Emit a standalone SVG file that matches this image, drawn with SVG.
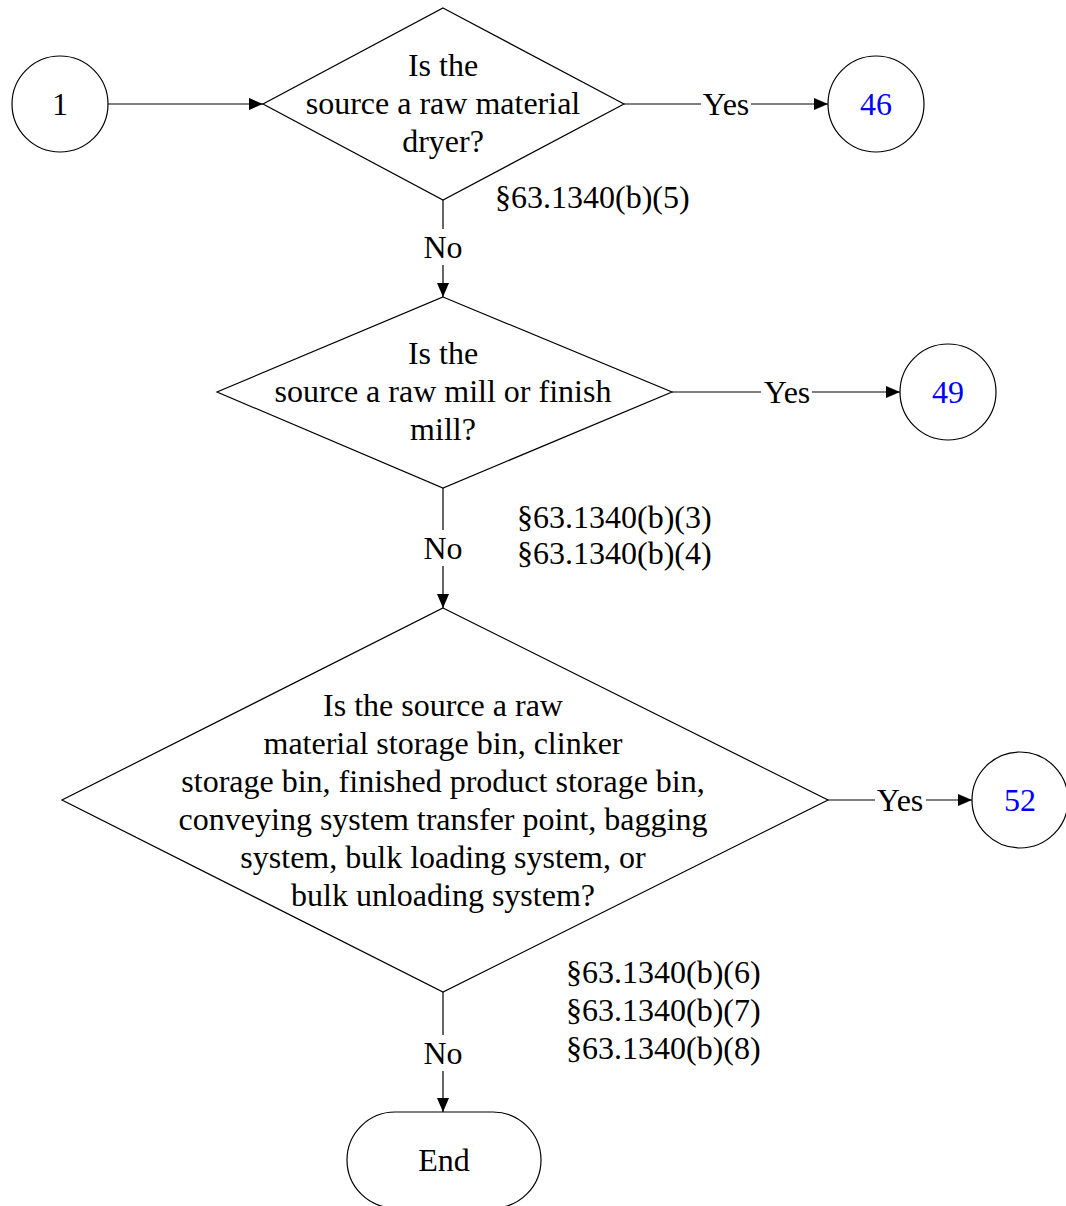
<svg xmlns="http://www.w3.org/2000/svg" width="1066" height="1206" viewBox="0 0 1066 1206">
<style>
.s{fill:#fff;stroke:#000;stroke-width:1.2}
.c{fill:none;stroke:#000;stroke-width:1.2}
text{font-family:"Liberation Serif","Times New Roman",serif;font-size:32px;fill:#000}
.m{text-anchor:middle}
.b{fill:#0000ff}
</style>
<defs>
<marker id="ah" viewBox="0 0 14 12" refX="14" refY="6" markerWidth="14" markerHeight="12" markerUnits="userSpaceOnUse" orient="auto">
<path d="M0,0 L14,6 L0,12 z" fill="#000"/>
</marker>
</defs>
<rect width="1066" height="1206" fill="#fff"/>
<g id="connectors">
<line class="c" x1="108" y1="104" x2="263" y2="104" marker-end="url(#ah)"/>
<line class="c" x1="624" y1="104" x2="701" y2="104"/>
<line class="c" x1="751" y1="104" x2="828" y2="104" marker-end="url(#ah)"/>
<text class="m" x="726" y="115">Yes</text>
<line class="c" x1="443" y1="200" x2="443" y2="229"/>
<line class="c" x1="443" y1="265" x2="443" y2="297" marker-end="url(#ah)"/>
<text class="m" x="443" y="258">No</text>
<text x="495" y="208">§63.1340(b)(5)</text>
<line class="c" x1="672" y1="392" x2="761" y2="392"/>
<line class="c" x1="812" y1="392" x2="900" y2="392" marker-end="url(#ah)"/>
<text class="m" x="787" y="403">Yes</text>
<line class="c" x1="443" y1="488" x2="443" y2="530"/>
<line class="c" x1="443" y1="566" x2="443" y2="608" marker-end="url(#ah)"/>
<text class="m" x="443" y="559">No</text>
<text x="517" y="528">§63.1340(b)(3)</text>
<text x="517" y="564">§63.1340(b)(4)</text>
<line class="c" x1="828" y1="800" x2="875" y2="800"/>
<line class="c" x1="926" y1="800" x2="972" y2="800" marker-end="url(#ah)"/>
<text class="m" x="900" y="811">Yes</text>
<line class="c" x1="443" y1="992" x2="443" y2="1035"/>
<line class="c" x1="443" y1="1071" x2="443" y2="1112" marker-end="url(#ah)"/>
<text class="m" x="443" y="1064">No</text>
<text x="566" y="983">§63.1340(b)(6)</text>
<text x="566" y="1021">§63.1340(b)(7)</text>
<text x="566" y="1059">§63.1340(b)(8)</text>
</g>
<g id="start1">
<circle class="s" cx="60" cy="104" r="48"/>
<text class="m" x="60" y="115">1</text>
</g>
<g id="decision1">
<polygon class="s" points="443,8 624,104 443,200 263,104"/>
<text class="m" x="443" y="76">Is the</text>
<text class="m" x="443" y="114">source a raw material</text>
<text class="m" x="443" y="152">dryer?</text>
</g>
<g id="conn46">
<circle class="s" cx="876" cy="104" r="48"/>
<text class="m b" x="876" y="115">46</text>
</g>
<g id="decision2">
<polygon class="s" points="443,297 672,392 443,488 217,392"/>
<text class="m" x="443" y="364">Is the</text>
<text class="m" x="443" y="402">source a raw mill or finish</text>
<text class="m" x="443" y="440">mill?</text>
</g>
<g id="conn49">
<circle class="s" cx="948" cy="392" r="48"/>
<text class="m b" x="948" y="403">49</text>
</g>
<g id="decision3">
<polygon class="s" points="443,608 828,800 443,992 62,800"/>
<text class="m" x="443" y="716">Is the source a raw</text>
<text class="m" x="443" y="754">material storage bin, clinker</text>
<text class="m" x="443" y="792">storage bin, finished product storage bin,</text>
<text class="m" x="443" y="830">conveying system transfer point, bagging</text>
<text class="m" x="443" y="868">system, bulk loading system, or</text>
<text class="m" x="443" y="906">bulk unloading system?</text>
</g>
<g id="conn52">
<circle class="s" cx="1020" cy="800" r="48"/>
<text class="m b" x="1020" y="811">52</text>
</g>
<g id="end">
<rect class="s" x="347" y="1112" width="194" height="96" rx="48" ry="48"/>
<text class="m" x="444" y="1171">End</text>
</g>
</svg>
